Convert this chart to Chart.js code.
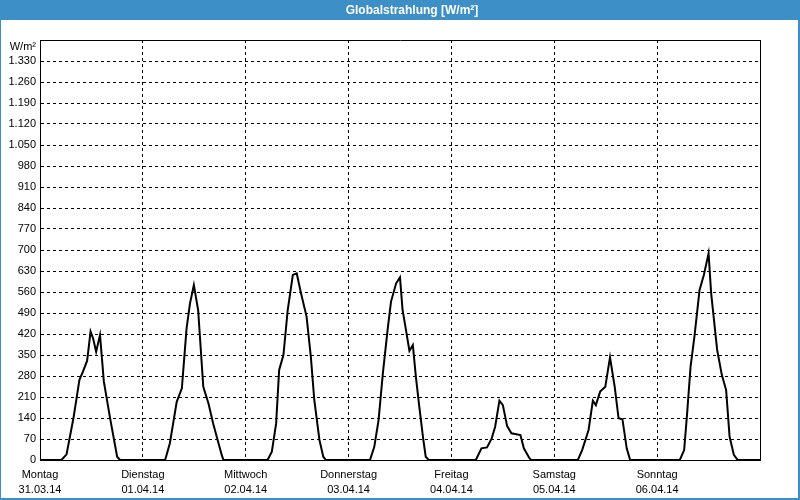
<!DOCTYPE html>
<html>
<head>
<meta charset="utf-8">
<script src="https://cdn.jsdelivr.net/npm/chart.js@4/dist/chart.umd.min.js"></script>
<style>
  html, body { margin: 0; padding: 0; background: #ffffff; }
  #wrap { width: 800px; height: 500px; position: relative; }
</style>
</head>
<body>
<div id="wrap"><canvas id="c" width="800" height="500"></canvas></div>
<script>
// ---- data (hours since Mon 31.03.14 00:00, W/m²) ----
const chartTitle = 'Globalstrahlung [W/m²]';
const yUnit = 'W/m²';
const dayNames = ['Montag', 'Dienstag', 'Mittwoch', 'Donnerstag', 'Freitag', 'Samstag', 'Sonntag'];
const dayDates = ['31.03.14', '01.04.14', '02.04.14', '03.04.14', '04.04.14', '05.04.14', '06.04.14'];
const hours = [
  0, 5, 6.2, 7.8, 9.2, 10, 11, 11.8, 12.4, 13.1, 14, 14.9, 16.3, 18, 18.7,
  29.2, 30.3, 31.9, 33.1, 34.2, 35, 35.9, 36.9, 38.1, 39.3, 40.4, 42.4, 42.8,
  53.1, 54.1, 55.1, 55.8, 56.8, 57.8, 59, 59.9, 60.9, 62.2, 63.2, 64, 65.2, 66.1, 66.7,
  77, 78, 79, 80, 81.1, 81.9, 83.1, 84, 84.6, 85.4, 86.2, 87, 87.7, 88.5, 89.4, 90, 90.7,
  101.7, 103, 104.3, 105.4, 106.2, 107.2, 108, 109, 110, 112.1, 112.9, 114.2, 114.6,
  125.5, 126.5, 128, 129, 129.7, 130.7, 131.9, 133, 134.1, 135, 135.9, 136.9, 137.7,
  149.3, 150.3, 151, 151.8, 152.7, 153.9, 154.9, 156, 156.6, 158, 159.1, 160.1, 160.9, 161.9, 162.8, 168
];
const irradiance = [
  0, 0, 19, 139, 267, 294, 331, 428, 405, 361, 417, 261, 144, 11, 0,
  0, 56, 194, 239, 439, 522, 583, 500, 244, 189, 122, 17, 0,
  0, 28, 122, 300, 350, 500, 617, 622, 556, 478, 344, 200, 67, 11, 0,
  0, 44, 133, 289, 433, 528, 589, 609, 500, 433, 364, 383, 278, 178, 72, 11, 0,
  0, 39, 42, 72, 111, 198, 183, 113, 89, 83, 39, 6, 0,
  0, 33, 100, 198, 183, 228, 244, 342, 244, 139, 136, 39, 0,
  0, 33, 156, 311, 411, 567, 617, 689, 556, 367, 283, 233, 78, 17, 0, 0
];
const yMax = 1400, yStep = 70;
const xMax = 168, xStep = 24;

const BLUE = '#3c8fc7';

function fmtDE(v) {
  return String(v).replace(/\B(?=(\d{3})+(?!\d))/g, '.');
}

const framePlugin = {
  id: 'frame',
  beforeDraw(chart) {
    const ctx = chart.ctx;
    ctx.save();
    ctx.fillStyle = '#ffffff';
    ctx.fillRect(0, 0, chart.width, chart.height);
    ctx.fillStyle = BLUE;
    ctx.fillRect(0, 0, chart.width, 20);
    ctx.fillRect(0, 0, 1, chart.height);
    ctx.fillRect(chart.width - 2, 0, 2, chart.height);
    ctx.fillRect(0, chart.height - 2, chart.width, 2);
    ctx.fillStyle = '#ffffff';
    ctx.font = 'bold 12px "Liberation Sans", Arial, sans-serif';
    ctx.textAlign = 'center';
    ctx.textBaseline = 'middle';
    ctx.fillText(chartTitle, 412, 10.5);
    ctx.restore();
  },
  afterDatasetsDraw(chart) {
    const a = chart.chartArea;
    const ctx = chart.ctx;
    const l = Math.round(a.left) + 0.5, r = Math.round(a.right) + 0.5;
    const t = Math.round(a.top) + 0.5, b = Math.round(a.bottom) + 0.5;
    ctx.save();
    ctx.strokeStyle = '#000';
    ctx.lineWidth = 1;
    ctx.setLineDash([]);
    ctx.beginPath();
    ctx.moveTo(l, b); ctx.lineTo(l, t); ctx.lineTo(r, t); ctx.lineTo(r, b); ctx.lineTo(l, b);
    ctx.stroke();
    ctx.restore();
  }
};

new Chart(document.getElementById('c'), {
  type: 'line',
  data: {
    datasets: [{
      data: hours.map((h, i) => ({ x: h, y: irradiance[i] })),
      borderColor: '#000000',
      borderWidth: 2,
      pointRadius: 0,
      tension: 0,
      fill: false,
      clip: 3
    }]
  },
  options: {
    responsive: false,
    animation: false,
    layout: { padding: { top: 40, right: 40, bottom: 0, left: 0 } },
    plugins: { legend: { display: false }, tooltip: { enabled: false }, title: { display: false } },
    scales: {
      x: {
        type: 'linear',
        min: 0, max: xMax,
        afterFit(s) { s.height = 40; },
        afterBuildTicks(s) {
          s.ticks = [];
          for (let v = 0; v <= xMax; v += xStep) s.ticks.push({ value: v });
        },
        ticks: {
          autoSkip: false,
          maxRotation: 0,
          padding: 7,
          color: '#000',
          font: { family: '"Liberation Sans", Arial, sans-serif', size: 11, lineHeight: '15px' },
          callback(v) {
            const i = Math.round(v / xStep);
            return i < dayNames.length ? [dayNames[i], dayDates[i]] : '';
          }
        },
        grid: { color: '#000', lineWidth: 1, drawTicks: false },
        border: { color: '#000', width: 1, dash: [3, 3] }
      },
      y: {
        min: 0, max: yMax,
        afterFit(s) { s.width = 40; },
        afterBuildTicks(s) {
          s.ticks = [];
          for (let v = 0; v <= yMax; v += yStep) s.ticks.push({ value: v });
        },
        ticks: {
          autoSkip: false,
          padding: 4,
          color: '#000',
          font: { family: '"Liberation Sans", Arial, sans-serif', size: 11, lineHeight: 1.2 },
          callback(v) { return v === yMax ? ['', yUnit] : fmtDE(v); }
        },
        grid: { color: '#000', lineWidth: 1, drawTicks: false },
        border: { color: '#000', width: 1, dash: [3, 3] }
      }
    }
  },
  plugins: [framePlugin]
});
</script>
</body>
</html>
